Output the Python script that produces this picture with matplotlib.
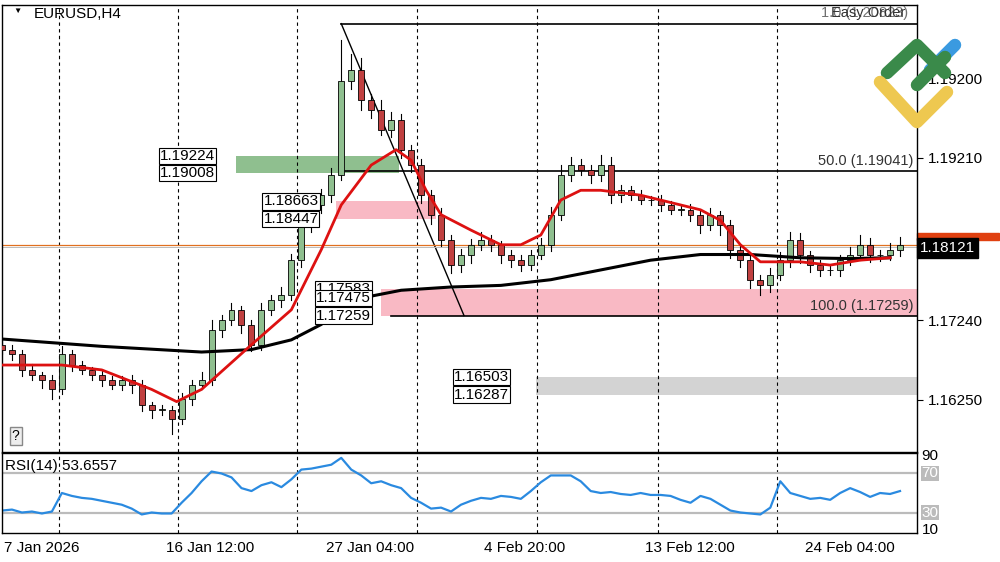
import matplotlib
matplotlib.use("Agg")
import matplotlib.pyplot as plt
from matplotlib.patches import Rectangle
import numpy as np

closes = [1.1684,1.1678,1.1659,1.1653,1.1647,1.1635,1.1678,1.1665,1.1659,1.1653,
          1.1647,1.1641,1.1647,1.1641,1.1616,1.1610,1.1610,1.1598,1.1623,1.1641,
          1.1647,1.1708,1.1720,1.1733,1.1714,1.1690,1.1733,1.1745,1.1751,1.1794,
          1.1837,1.1862,1.1874,1.1899,1.2015,1.2028,1.1991,1.1979,1.1954,1.1966,
          1.1930,1.1911,1.1874,1.1850,1.1819,1.1788,1.1800,1.1813,1.1819,1.1813,
          1.1800,1.1794,1.1788,1.1800,1.1813,1.1850,1.1899,1.1911,1.1905,1.1899,
          1.1911,1.1874,1.1880,1.1874,1.1868,1.1868,1.1862,1.1856,1.1856,1.1850,
          1.1837,1.1850,1.1837,1.1807,1.1794,1.1770,1.1763,1.1776,1.1794,1.1819,
          1.1800,1.1788,1.1782,1.1782,1.1794,1.1800,1.1813,1.1800,1.1800,1.1807,1.1813]
opens = [1.1690] + closes[:-1]
wick_up = [0.0008,0.0006,0.0005,0.0007,0.0004,0.0006,0.0010,0.0006,0.0005,0.0004,
           0.0006,0.0005,0.0004,0.0006,0.0005,0.0004,0.0006,0.0005,0.0007,0.0006,
           0.0009,0.0012,0.0006,0.0008,0.0005,0.0006,0.0008,0.0006,0.0010,0.0008,
           0.0010,0.0008,0.0007,0.0009,0.0050,0.0020,0.0015,0.0008,0.0012,0.0010,
           0.0008,0.0006,0.0007,0.0006,0.0008,0.0006,0.0008,0.0007,0.0010,0.0006,
           0.0005,0.0006,0.0007,0.0006,0.0008,0.0010,0.0012,0.0010,0.0008,0.0006,
           0.0012,0.0010,0.0006,0.0005,0.0006,0.0005,0.0006,0.0005,0.0006,0.0007,
           0.0006,0.0008,0.0005,0.0006,0.0005,0.0008,0.0006,0.0008,0.0010,0.0010,
           0.0008,0.0005,0.0006,0.0006,0.0007,0.0010,0.0012,0.0008,0.0006,0.0008,0.0010]
wick_dn = [0.0005,0.0007,0.0008,0.0006,0.0010,0.0012,0.0006,0.0007,0.0005,0.0006,
           0.0008,0.0006,0.0007,0.0010,0.0008,0.0010,0.0006,0.0018,0.0006,0.0007,
           0.0006,0.0006,0.0008,0.0006,0.0010,0.0008,0.0006,0.0006,0.0008,0.0006,
           0.0008,0.0008,0.0010,0.0008,0.0006,0.0010,0.0012,0.0010,0.0006,0.0008,
           0.0010,0.0008,0.0010,0.0012,0.0008,0.0010,0.0008,0.0010,0.0006,0.0008,
           0.0010,0.0008,0.0007,0.0006,0.0005,0.0008,0.0006,0.0008,0.0006,0.0010,
           0.0008,0.0010,0.0008,0.0006,0.0005,0.0006,0.0007,0.0005,0.0006,0.0008,
           0.0010,0.0006,0.0012,0.0010,0.0008,0.0010,0.0012,0.0008,0.0006,0.0008,
           0.0010,0.0008,0.0008,0.0006,0.0007,0.0006,0.0006,0.0008,0.0007,0.0006,0.0008]

red_x = [0,6,10,15,17.5,20,25,29,32,34,37,39.5,41,42.5,44,47,50,52,54,56,58,60,64,68,70,72,74,76,78,80,83,86,89]
red_y = [1.1665,1.1665,1.1659,1.1635,1.1620,1.1635,1.1690,1.1733,1.1807,1.1862,1.1911,1.1930,1.1917,1.1880,1.1850,1.1831,1.1813,1.1813,1.1825,1.1868,1.1880,1.1880,1.1874,1.1862,1.1856,1.1843,1.1813,1.1792,1.1792,1.1792,1.1788,1.1794,1.1797]
black_x = [0,10,20,25,29,32,35,40,45,50,55,60,65,70,75,80,85,89]
black_y = [1.1697,1.1688,1.1681,1.1684,1.1696,1.1715,1.1745,1.1757,1.1761,1.1763,1.1770,1.1782,1.1794,1.1801,1.1801,1.1797,1.1796,1.1797]

rsi = [32,33,30,31,29,31,50,47,45,44,42,40,38,34,28,30,29,29,40,50,62,72,70,66,55,52,58,61,56,64,
       74,75,77,79,86,74,68,60,62,58,55,45,40,34,35,31,38,42,45,44,47,46,44,52,61,68,68,68,62,52,
       50,51,49,48,50,48,48,47,43,40,47,44,38,32,30,29,28,35,62,50,47,44,45,43,50,55,51,46,50,49,52]

date_labels = ["7 Jan 2026", "16 Jan 12:00", "27 Jan 04:00", "4 Feb 20:00", "13 Feb 12:00", "24 Feb 04:00"]
date_px = [42, 210, 370, 525, 690, 850]
vline_px = [57, 176, 296, 416, 536, 657, 777]
price_ticks = [1.2018, 1.1920, 1.1720, 1.1622]
price_tick_labels = ["1.19200", "1.19210", "1.17240", "1.16250"]
fib_levels = [1.2085, 1.19041, 1.17259]
zones = [(1.19224, 1.19008, 23.5, 39.8, "#8fbf8f"), (1.18663, 1.18447, 33.5, 43.5, "#f9b9c4"),
         (1.17583, 1.17259, 38.0, 91.7, "#f9b9c4"), (1.16503, 1.16287, 53.5, 91.7, "#d3d3d3")]
box_labels = [(15.8, 1.19224, "1.19224"), (15.8, 1.19008, "1.19008"), (26.2, 1.18663, "1.18663"),
              (26.2, 1.18447, "1.18447"), (31.5, 1.17583, "1.17583"), (31.5, 1.17475, "1.17475"),
              (31.5, 1.17259, "1.17259"), (45.3, 1.16503, "1.16503"), (45.3, 1.16287, "1.16287")]
current = 1.1809

plt.rcParams['font.family'] = ['Liberation Sans', 'DejaVu Sans']
W, H = 1000, 562
fig = plt.figure(figsize=(10, 5.62), dpi=100)
ax = fig.add_axes([0.002, 1 - 452 / H, 0.915, 447 / H])
ax2 = fig.add_axes([0.002, 1 - 533 / H, 0.915, 80 / H])
XMAX = 91.7
for a in (ax, ax2):
    a.set_xlim(0, XMAX)
    a.set_xticks([])
    for s in a.spines.values():
        s.set_linewidth(1.0)
    for p in vline_px:
        a.axvline(p / 10, color='black', ls=(0, (3, 3)), lw=0.8)
ax.set_ylim(1.1558, 1.2108)
ax2.set_ylim(9, 91)

# zones
for top, bot, x0, x1, c in zones:
    ax.add_patch(Rectangle((x0, bot), x1 - x0, top - bot, color=c, lw=0, zorder=1))
# fib lines
ax.plot([34, XMAX], [fib_levels[0]] * 2, color='black', lw=1.2, zorder=2)
ax.plot([34, XMAX], [fib_levels[1]] * 2, color='black', lw=1.2, zorder=2)
ax.plot([39, XMAX], [fib_levels[2]] * 2, color='black', lw=1.2, zorder=2)
ax.plot([34, 46.3], [fib_levels[0], fib_levels[2]], color='black', lw=1.0, zorder=2)
ax.text(91.3, fib_levels[1] + 0.0003, "50.0 (1.19041)", ha='right', va='bottom', fontsize=10.5, color='#333333')
ax.text(91.3, fib_levels[2] + 0.0003, "100.0 (1.17259)", ha='right', va='bottom', fontsize=10.5, color='#333333')
ax.text(90.5, 1.2090, "Easy Order", ha='right', va='bottom', fontsize=10.5, color='#333333')
ax.text(90.8, 1.2090, "1.0 (1.20823)", ha='right', va='bottom', fontsize=10.5, color='#333333', alpha=0.7)

# price lines
ax.axhline(current + 0.0004, color='#e07020', lw=0.9, zorder=2)
ax.axhline(current + 0.0001, color='#bbbbbb', lw=0.7, zorder=2)

# candles
for i, (o, c, wu, wd) in enumerate(zip(opens, closes, wick_up, wick_dn)):
    hi = max(o, c) + wu
    lo = min(o, c) - wd
    ax.plot([i, i], [lo, hi], color='black', lw=0.8, zorder=3)
    col = '#8fbf8f' if c >= o else '#c04040'
    ax.add_patch(Rectangle((i - 0.3, min(o, c)), 0.6, max(abs(c - o), 0.00005),
                           facecolor=col, edgecolor='black', lw=0.6, zorder=4))
ax.plot(black_x, black_y, color='black', lw=2.2, zorder=5)
ax.plot(red_x, red_y, color='#dd1111', lw=2.0, zorder=6)

# box labels
for x, y, t in box_labels:
    ax.text(x, y, t, ha='left', va='center', fontsize=11, zorder=8,
            bbox=dict(facecolor='white', edgecolor='black', lw=0.8, pad=0.8))

# price axis
ax.yaxis.tick_right()
ax.set_yticks(price_ticks)
ax.set_yticklabels(price_tick_labels, fontsize=11)
ax.tick_params(axis='y', length=4, pad=4)
ax.text(1.003, (current - 1.1558) / (1.2108 - 1.1558), "1.18121", transform=ax.transAxes,
        ha='left', va='center', fontsize=11, color='white',
        bbox=dict(facecolor='black', edgecolor='black', pad=2))
ax.add_patch(Rectangle((1.0, (current + 0.0010 - 1.1558) / 0.055), 0.09, 0.015, transform=ax.transAxes,
                       color='#e04010', clip_on=False))

ax.text(0.012, 0.993, "\u25BC", transform=ax.transAxes, fontsize=6, va='top')
ax.text(0.035, 0.995, "EURUSD,H4", transform=ax.transAxes, fontsize=11, va='top')
ax.text(0.015, 0.02, "?", transform=ax.transAxes, fontsize=10, va='bottom', ha='center',
        bbox=dict(facecolor='#eeeeee', edgecolor='#888888', pad=1.5))

# RSI
ax2.axhline(70, color='#bbbbbb', lw=1.6)
ax2.axhline(30, color='#bbbbbb', lw=1.6)
ax2.plot(range(len(rsi)), rsi, color='#2a8ae0', lw=1.6)
ax2.yaxis.tick_right()
ax2.set_yticks([])
ax2.text(0.003, 0.93, "RSI(14) 53.6557", transform=ax2.transAxes, fontsize=11, va='top')
for v, t in [(88, "90"), (12, "10")]:
    ax2.text(1.005, (v - 9) / 82, t, transform=ax2.transAxes, fontsize=11, va='center')
for v, t in [(70, "70"), (30, "30")]:
    ax2.text(1.005, (v - 9) / 82, t, transform=ax2.transAxes, fontsize=11, va='center',
             color='white', bbox=dict(facecolor='#bbbbbb', edgecolor='none', pad=0.5))

for p, t in zip(date_px, date_labels):
    fig.text(p / W, 1 - 548 / H, t, ha='center', va='center', fontsize=11)

# logo
def L(xs, ys, c, lw=9):
    fig.add_artist(plt.Line2D([x / W for x in xs], [1 - y / H for y in ys], color=c, lw=lw,
                              solid_capstyle='round', zorder=10))
L([930, 955], [70, 45], '#3a9ae0')
L([887, 917, 945], [73, 45, 73], '#3a8a4a')
L([917, 945], [85, 57], '#3a8a4a')
L([880, 917, 947], [82, 122, 92], '#eec850')

fig.savefig("out.png", dpi=100)
